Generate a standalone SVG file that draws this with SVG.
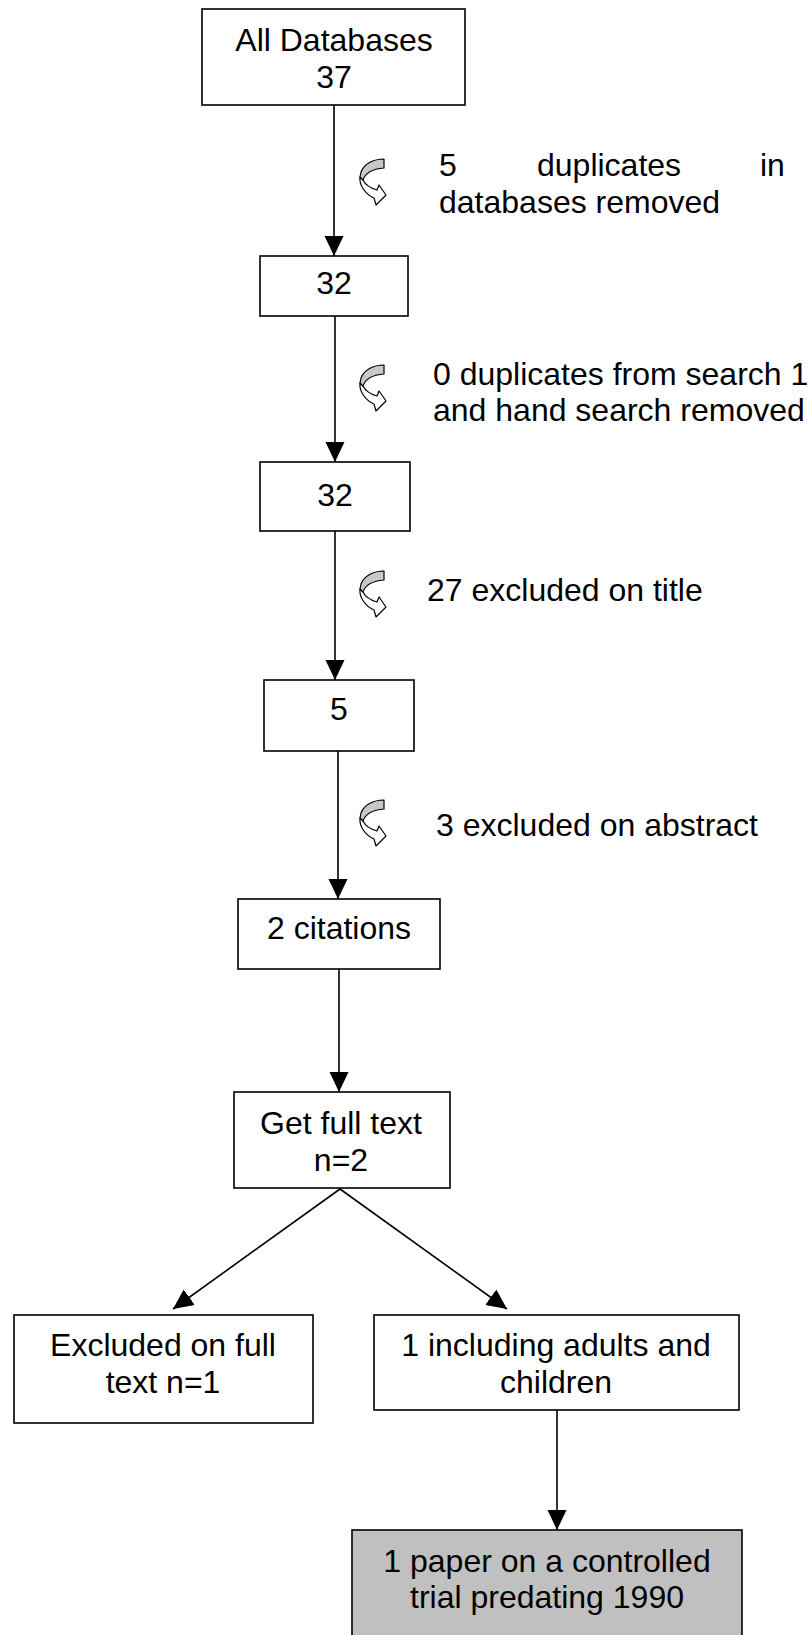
<svg xmlns="http://www.w3.org/2000/svg" width="812" height="1635" viewBox="0 0 812 1635">
<style>
.box{fill:#fff;stroke:#000;stroke-width:1.6}
.grey{fill:#c0c0c0;stroke:#000;stroke-width:1.6}
.t{font-family:"Liberation Sans",Arial,sans-serif;font-size:32px;fill:#000}
.c{text-anchor:middle}
.ln{stroke:#000;stroke-width:1.6;fill:none}
</style>
<defs>
<marker id="ah" markerWidth="20" markerHeight="20" viewBox="0 -10 20 20" refX="20" refY="0" orient="auto" markerUnits="userSpaceOnUse">
<path d="M0,-9.5 L20,0 L0,9.5 Z" fill="#000"/>
</marker>
<g id="curl" stroke="#000" stroke-width="1.2" stroke-linejoin="round">
<path d="M8,25 C7,33 13,42 22,46 L24,53 L34,43 L27,33 L25,38 C18,36 13,32 11,28 Z" fill="#fff"/>
<path d="M32,7 C21,7 12,12 9,20 L8,25 L11,28 C13,22 20,17 32,16 Z" fill="#c8c8c8"/>
</g>
</defs>

<g id="connectors">
<line class="ln" x1="334" y1="105" x2="334" y2="256" marker-end="url(#ah)"/>
<line class="ln" x1="335" y1="316" x2="335" y2="462" marker-end="url(#ah)"/>
<line class="ln" x1="335" y1="531" x2="335" y2="680" marker-end="url(#ah)"/>
<line class="ln" x1="338" y1="751" x2="338" y2="899" marker-end="url(#ah)"/>
<line class="ln" x1="339" y1="969" x2="339" y2="1092" marker-end="url(#ah)"/>
<line class="ln" x1="340" y1="1189" x2="173" y2="1309" marker-end="url(#ah)"/>
<line class="ln" x1="340" y1="1189" x2="507" y2="1309" marker-end="url(#ah)"/>
<line class="ln" x1="557" y1="1410" x2="557" y2="1530" marker-end="url(#ah)"/>
</g>

<g id="notes">
<use href="#curl" x="352" y="152"/>
<use href="#curl" x="352" y="358"/>
<use href="#curl" x="352" y="564"/>
<use href="#curl" x="352" y="793"/>
<text class="t"><tspan x="439" y="176">5</tspan><tspan x="537" y="176">duplicates</tspan><tspan x="760" y="176">in</tspan></text>
<text class="t" x="439" y="213">databases removed</text>
<text class="t" x="433" y="385">0 duplicates from search 1</text>
<text class="t" x="433" y="421">and hand search removed</text>
<text class="t" x="427" y="601">27 excluded on title</text>
<text class="t" x="436" y="836">3 excluded on abstract</text>
</g>

<g id="n1"><rect class="box" x="202" y="9" width="263" height="96"/>
<text class="t c" x="334" y="51">All Databases</text><text class="t c" x="334" y="88">37</text></g>
<g id="n2"><rect class="box" x="260" y="256" width="148" height="60"/>
<text class="t c" x="334" y="294">32</text></g>
<g id="n3"><rect class="box" x="260" y="462" width="150" height="69"/>
<text class="t c" x="335" y="506">32</text></g>
<g id="n4"><rect class="box" x="264" y="680" width="150" height="71"/>
<text class="t c" x="339" y="720">5</text></g>
<g id="n5"><rect class="box" x="238" y="899" width="202" height="70"/>
<text class="t c" x="339" y="939">2 citations</text></g>
<g id="n6"><rect class="box" x="234" y="1092" width="216" height="96"/>
<text class="t c" x="341" y="1134">Get full text</text><text class="t c" x="341" y="1171">n=2</text></g>
<g id="n7"><rect class="box" x="14" y="1315" width="299" height="108"/>
<text class="t c" x="163" y="1356">Excluded on full</text><text class="t c" x="163" y="1393">text n=1</text></g>
<g id="n8"><rect class="box" x="374" y="1315" width="365" height="95"/>
<text class="t c" x="556" y="1356">1 including adults and</text><text class="t c" x="556" y="1393">children</text></g>
<g id="n9"><rect class="grey" x="352" y="1530" width="390" height="120"/>
<text class="t c" x="547" y="1572">1 paper on a controlled</text><text class="t c" x="547" y="1608">trial predating 1990</text></g>
</svg>
